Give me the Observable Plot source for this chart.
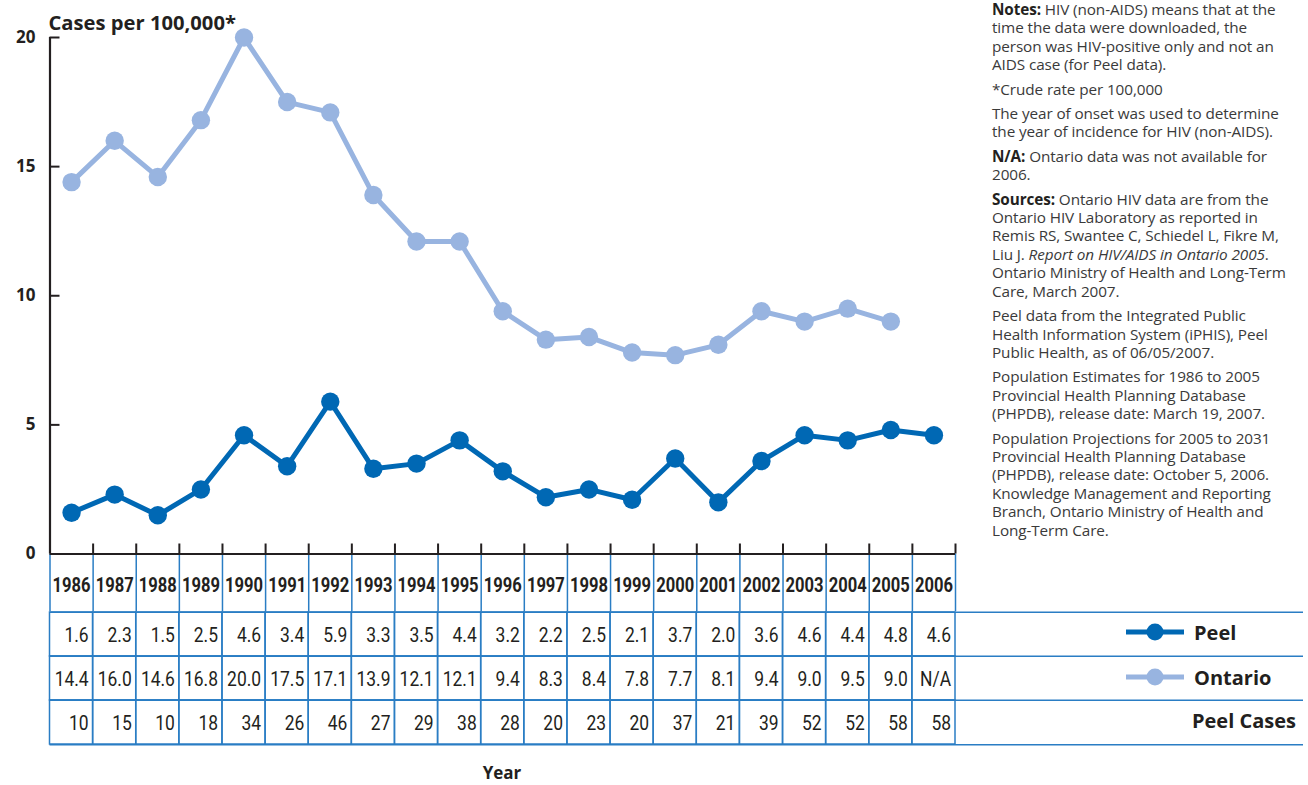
<!DOCTYPE html>
<html><head><meta charset="utf-8">
<script src="https://cdn.jsdelivr.net/npm/d3@7"></script>
<script src="https://cdn.jsdelivr.net/npm/@observablehq/plot@0.6"></script>
<style>
body{margin:0;background:#fff;}
#wrap{position:relative;width:1308px;height:785px;overflow:hidden;font-family:"Open Sans",sans-serif;color:#231f20;background:#fff;}
#wrap svg{position:absolute;left:0;overflow:visible;}
#notes{position:absolute;left:992px;top:0px;font-size:15.3px;line-height:18.4px;color:#3a3a3a;white-space:nowrap;letter-spacing:-0.1px;}
#notes p{margin:0 0 6px 0;}
#notes b{color:#231f20;}
.leg{position:absolute;display:flex;align-items:center;font-weight:700;font-size:20px;color:#231f20;height:30px;}
.leg svg{position:static !important;margin-right:10px;}
#xlabel{position:absolute;left:452px;width:100px;text-align:center;top:764px;font-weight:700;font-size:17px;color:#231f20;line-height:17px;}
</style></head><body><div id="wrap"></div>
<script>
// ---- data ----
const years = [1986,1987,1988,1989,1990,1991,1992,1993,1994,1995,1996,1997,1998,1999,2000,2001,2002,2003,2004,2005,2006];
const peelRate = [1.6,2.3,1.5,2.5,4.6,3.4,5.9,3.3,3.5,4.4,3.2,2.2,2.5,2.1,3.7,2.0,3.6,4.6,4.4,4.8,4.6];
const ontarioRate = [14.4,16.0,14.6,16.8,20.0,17.5,17.1,13.9,12.1,12.1,9.4,8.3,8.4,7.8,7.7,8.1,9.4,9.0,9.5,9.0,null];
const peelCases = [10,15,10,18,34,26,46,27,29,38,28,20,23,20,37,21,39,52,52,58,58];
const yTicks = [0,5,10,15,20];
const rowLabels = ["Peel","Ontario","Peel Cases"];
const yTitle = "Cases per 100,000*";
const xTitle = "Year";

// ---- styles / layout ----
const PEEL = "#0068b4", ONT = "#98b4e0", GRID = "#2a7dc4", INK = "#231f20";
const TABFONT = "Roboto,'Open Sans',sans-serif";
const plotLeft = 49.5, plotRight = 955, tableRight = 1303;
const colW = (plotRight - plotLeft) / years.length;
const x0 = years[0] - 0.5, x1 = years[years.length - 1] + 0.5;

const wrap = document.getElementById("wrap");

const peel = years.map((y, i) => ({year: y, v: peelRate[i]}));
const ont = years.map((y, i) => ({year: y, v: ontarioRate[i]})).filter(d => d.v != null);
const bounds = years.map(y => y + 0.5);

const chart = Plot.plot({
  width: 960, height: 612,
  marginLeft: plotLeft, marginRight: 960 - plotRight, marginTop: 37, marginBottom: 58.5,
  x: {type: "linear", domain: [x0, x1], axis: null},
  y: {domain: [0, 20], axis: null},
  style: {fontFamily: "'Open Sans',sans-serif", color: INK, background: "transparent"},
  marks: [
    Plot.ruleX([x0, ...bounds], {x: d => d, y1: 0, y2: 0, insetBottom: -57.5, stroke: GRID, strokeWidth: 1.5}),
    Plot.ruleX(bounds, {x: d => d, y1: 0, y2: 0, insetTop: -10, stroke: INK, strokeWidth: 2}),
    Plot.ruleY(yTicks.slice(1), {y: d => d, x1: x0, x2: x0, insetRight: -10, stroke: INK, strokeWidth: 2}),
    Plot.ruleX([x0], {x: d => d, y1: 0, y2: 20, stroke: INK, strokeWidth: 2.2}),
    Plot.ruleY([0], {y: d => d, x1: x0, x2: x1, stroke: INK, strokeWidth: 2.2}),
    Plot.text(yTicks, {x: x0, y: d => d, text: d => String(d), textAnchor: "end", dx: -14.5, fontSize: 17, fontWeight: "bold", fill: INK}),
    Plot.text([yTitle], {x: x0, y: 20, text: d => d, textAnchor: "start", dx: -1.5, dy: -14, fontSize: 20.2, fontWeight: "bold", fill: INK}),
    Plot.text(years, {x: d => d, y: 0, text: d => String(d), dy: 31.5, fontSize: 21, fontWeight: "bold", fontFamily: TABFONT, fill: INK}),
    Plot.line(ont, {x: "year", y: "v", stroke: ONT, strokeWidth: 5}),
    Plot.dot(ont, {x: "year", y: "v", r: 9.2, fill: ONT}),
    Plot.line(peel, {x: "year", y: "v", stroke: PEEL, strokeWidth: 5}),
    Plot.dot(peel, {x: "year", y: "v", r: 9.2, fill: PEEL})
  ]
});
chart.style.top = "0px";
wrap.appendChild(chart);

// ---- table body ----
const rowValues = {
  "Peel": peelRate.map(v => v.toFixed(1)),
  "Ontario": ontarioRate.map(v => v == null ? "N/A" : v.toFixed(1)),
  "Peel Cases": peelCases.map(v => String(v))
};
const cells = [];
rowLabels.forEach(r => years.forEach((y, i) => cells.push({row: r, year: y, text: rowValues[r][i]})));

const tTop = 1, tBottom = 2, tBodyH = 133.5;
const rowH = tBodyH / rowLabels.length;
const table = Plot.plot({
  width: 1308, height: tTop + tBodyH + tBottom,
  marginLeft: plotLeft, marginRight: 1308 - tableRight, marginTop: tTop, marginBottom: tBottom,
  x: {type: "linear", domain: [x0, x0 + (tableRight - plotLeft) / colW], axis: null},
  y: {type: "band", domain: rowLabels, padding: 0, axis: null},
  style: {fontFamily: "'Open Sans',sans-serif", color: INK, background: "transparent"},
  marks: [
    Plot.ruleY(rowLabels, {y: d => d, dy: -rowH / 2, stroke: GRID, strokeWidth: 1.5}),
    Plot.ruleY(rowLabels.slice(-1), {y: d => d, dy: rowH / 2, stroke: GRID, strokeWidth: 1.5}),
    Plot.barX(cells, {x1: d => d.year - 0.5, x2: d => d.year + 0.5, y: "row", fill: "none", stroke: GRID, strokeWidth: 1.5}),
    Plot.text(cells, {x: d => d.year + 0.5, y: "row", text: "text", textAnchor: "end", dx: -4.5, dy: 1.5, fontSize: 20, fontFamily: TABFONT, fill: INK})
  ]
});
table.style.top = (611 - tTop) + "px";
wrap.appendChild(table);

// condense table text horizontally (reference uses a condensed face)
function squeeze(texts, refLabel, refWidth) {
  const ref = texts.find(t => t.textContent === refLabel);
  if (!ref) return;
  const k = refWidth / ref.getComputedTextLength();
  if (!(k < 1)) return;
  texts.forEach(t => {
    let tr = t.getAttribute("transform");
    if (!tr) {
      const x = +(t.getAttribute("x") || 0), y = +(t.getAttribute("y") || 0);
      t.removeAttribute("x"); t.removeAttribute("y");
      tr = `translate(${x},${y})`;
    }
    t.setAttribute("transform", `${tr} scale(${k.toFixed(4)},1)`);
  });
}
squeeze([...chart.querySelectorAll("text")].filter(t => /^\d{4}$/.test(t.textContent)), "1986", 38);
squeeze([...table.querySelectorAll("text")], "14.4", 34);

// ---- legend ----
function legendItem(label, color, top) {
  const d = document.createElement("div");
  d.className = "leg";
  d.style.left = "1126px";
  d.style.top = (top - 15) + "px";
  d.innerHTML = `<svg width="58" height="20" viewBox="0 0 58 20"><line x1="0" x2="58" y1="10" y2="10" stroke="${color}" stroke-width="5"/><circle cx="29" cy="10" r="8.5" fill="${color}"/></svg><span>${label}</span>`;
  wrap.appendChild(d);
}
legendItem(rowLabels[0], PEEL, 632);
legendItem(rowLabels[1], ONT, 677);
const pc = document.createElement("div");
pc.className = "leg";
pc.style.right = "12px";
pc.style.top = (720 - 15) + "px";
pc.textContent = rowLabels[2];
wrap.appendChild(pc);

// ---- x title ----
const xt = document.createElement("div");
xt.id = "xlabel"; xt.textContent = xTitle;
wrap.appendChild(xt);

// ---- notes ----
const notes = document.createElement("div");
notes.id = "notes";
notes.innerHTML = `
<p><b>Notes:</b> HIV (non-AIDS) means that at the<br>time the data were downloaded, the<br>person was HIV-positive only and not an<br>AIDS case (for Peel data).</p>
<p>*Crude rate per 100,000</p>
<p>The year of onset was used to determine<br>the year of incidence for HIV (non-AIDS).</p>
<p><b>N/A:</b> Ontario data was not available for<br>2006.</p>
<p><b>Sources:</b> Ontario HIV data are from the<br>Ontario HIV Laboratory as reported in<br>Remis RS, Swantee C, Schiedel L, Fikre M,<br>Liu J. <i>Report on HIV/AIDS in Ontario 2005</i>.<br>Ontario Ministry of Health and Long-Term<br>Care, March 2007.</p>
<p>Peel data from the Integrated Public<br>Health Information System (iPHIS), Peel<br>Public Health, as of 06/05/2007.</p>
<p>Population Estimates for 1986 to 2005<br>Provincial Health Planning Database<br>(PHPDB), release date: March 19, 2007.</p>
<p>Population Projections for 2005 to 2031<br>Provincial Health Planning Database<br>(PHPDB), release date: October 5, 2006.<br>Knowledge Management and Reporting<br>Branch, Ontario Ministry of Health and<br>Long-Term Care.</p>`;
wrap.appendChild(notes);
</script>
</body></html>
